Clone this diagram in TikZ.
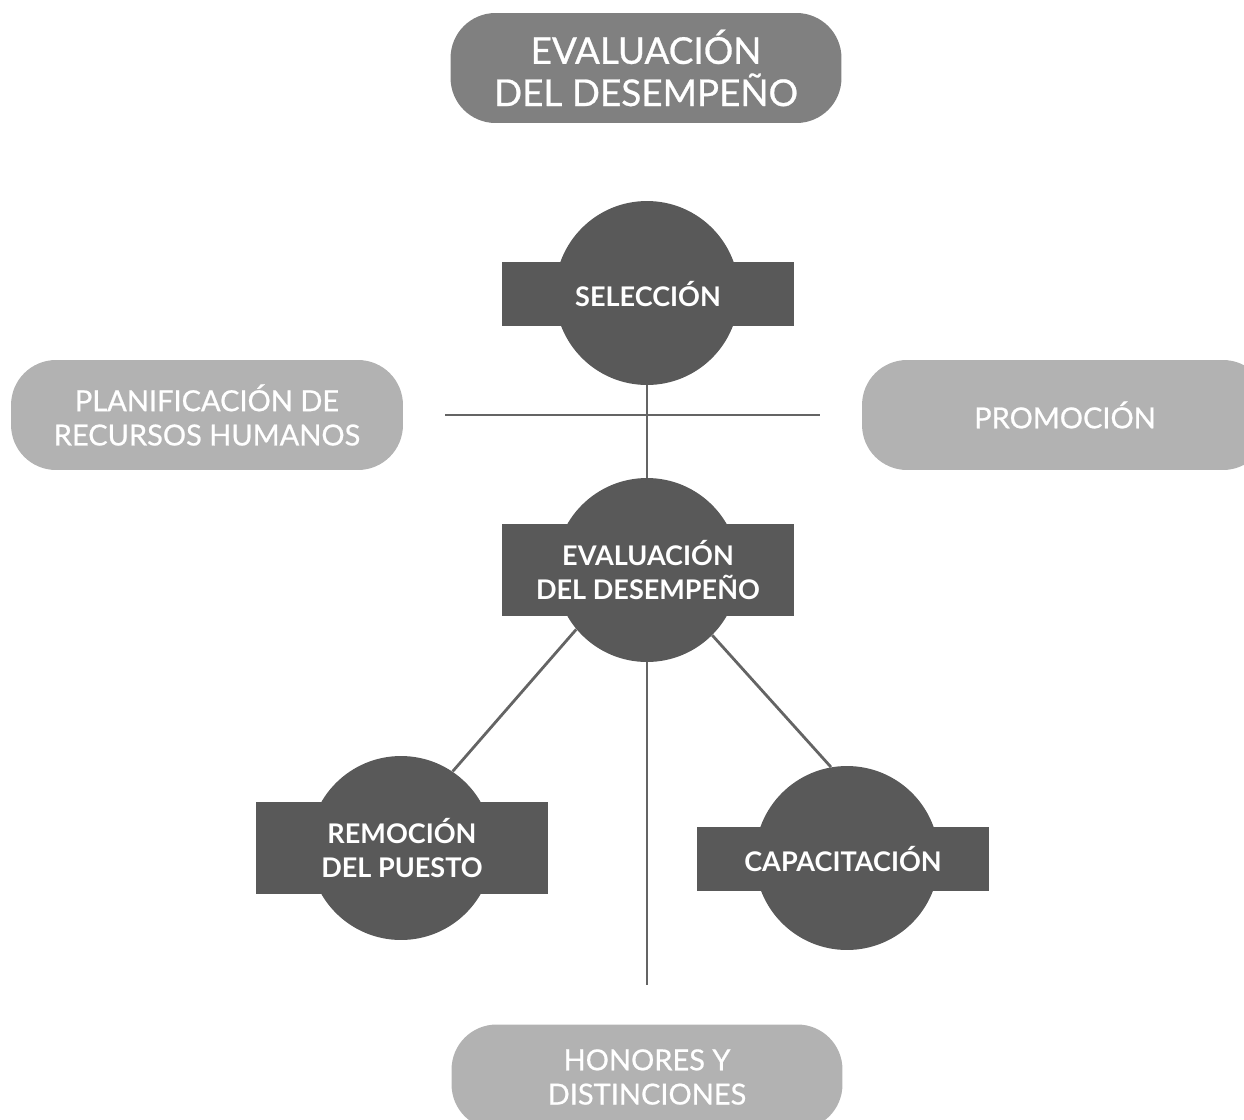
\documentclass[tikz,border=0pt]{standalone}
\usepackage{fontspec}
\setmainfont{Lato}
\newfontfamily\pillfont{Lato}[FakeBold=0.7]
\definecolor{boxdark}{RGB}{89,89,89}
\definecolor{pillmid}{RGB}{128,128,128}
\definecolor{pilllight}{RGB}{178,178,178}
\definecolor{linegray}{RGB}{100,100,100}

\begin{document}
\begin{tikzpicture}[x=0.02cm,y=-0.02cm,
  pill/.style={rectangle, rounded corners=0.9cm, minimum height=2.2cm, text=white, align=center, inner sep=0pt, font=\pillfont\fontsize{16.5}{19.5}\selectfont},
  ring/.style={circle, fill=boxdark, minimum size=3.68cm, inner sep=0pt},
  band/.style={rectangle, fill=boxdark, minimum width=5.86cm, text=white, align=center, inner sep=0pt, font=\fontsize{15.4}{19.3}\selectfont\bfseries},
  link/.style={draw=linegray, line width=1.6pt}]
\useasboundingbox (0,0) rectangle (1244,1119);
\clip (0,0) rectangle (1244,1119);

% pills
\node[pill, fill=pillmid, minimum width=7.82cm, font=\pillfont\fontsize{21}{24}\selectfont] (titulo) at (646,68) {EVALUACIÓN\\DEL DESEMPEÑO};
\node[pill, fill=pilllight, minimum width=7.84cm] (plan) at (207,415) {PLANIFICACIÓN DE\\RECURSOS HUMANOS};
\node[pill, fill=pilllight, minimum width=8.12cm] (promo) at (1065,415) {PROMOCIÓN};
\node[pill, fill=pilllight, minimum width=7.82cm, minimum height=2.1cm] (honores) at (647,1077) {HONORES Y\\DISTINCIONES};

% circles with bands
\node[ring] (sel) at (647,293) {};
\node[band, minimum height=1.3cm] (selbox) at (648,294) {SELECCIÓN};
\node[ring] (eval) at (647,570) {};
\node[band, minimum height=1.84cm] (evalbox) at (648,570) {EVALUACIÓN\\DEL DESEMPEÑO};
\node[ring] (rem) at (401,848) {};
\node[band, minimum height=1.84cm] (rembox) at (402,848) {REMOCIÓN\\DEL PUESTO};
\node[ring] (cap) at (847,858) {};
\node[band, minimum height=1.28cm] (capbox) at (843,859) {CAPACITACIÓN};

% connectors
\coordinate (hl) at (445,415);
\coordinate (hr) at (820,415);
\coordinate (hend) at (647,985);
\draw[link] (hl) -- (hr);
\draw[link] (sel.south) -- (eval.north);
\draw[link] (eval.220) -- (rem.56);
\draw[link] (eval.-45) -- (cap.100);
\draw[link] (eval.south) -- (hend);
\end{tikzpicture}
\end{document}
